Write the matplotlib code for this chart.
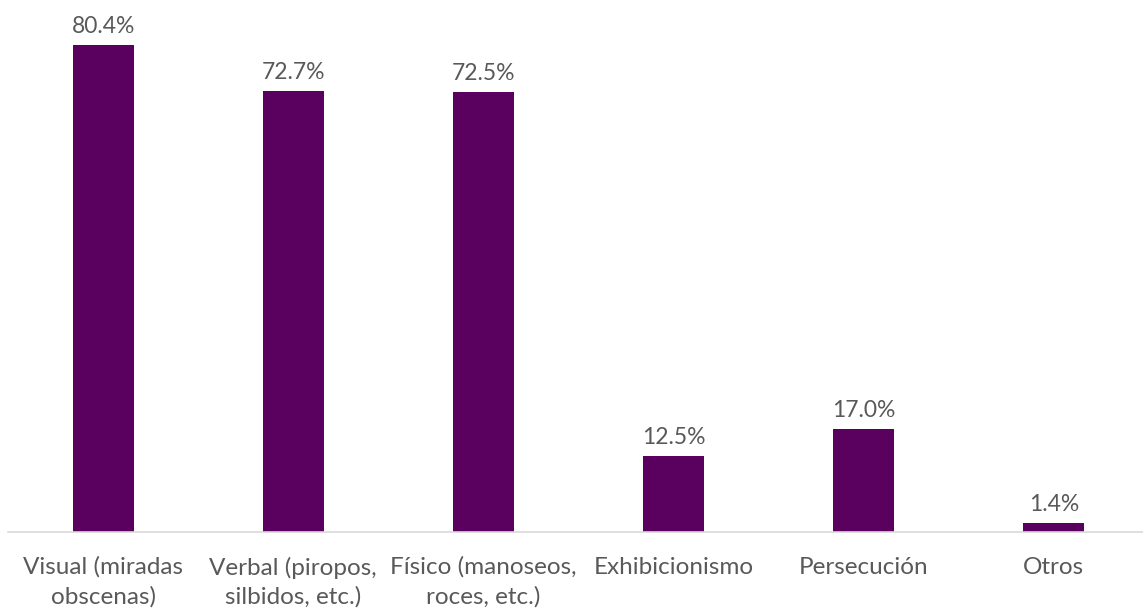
import matplotlib.pyplot as plt

categorias = ['Visual (miradas\nobscenas)', 'Verbal (piropos,\nsilbidos, etc.)',
              'Físico (manoseos,\nroces, etc.)', 'Exhibicionismo', 'Persecución', 'Otros']
porcentajes = [80.4, 72.7, 72.5, 12.5, 17.0, 1.4]

color_barra = '#5a005f'
color_texto = '#595959'

plt.rcParams['font.family'] = ['Lato', 'DejaVu Sans']

fig = plt.figure(figsize=(11.43, 6.12), dpi=100)
ax = fig.add_axes([8 / 1143, 80.5 / 612, 1141 / 1143, 531.5 / 612])

x = range(len(categorias))
ax.bar(x, porcentajes, width=0.32, color=color_barra)

for xi, v in zip(x, porcentajes):
    ax.text(xi, v + 1.3, f'{v:.1f}%', ha='center', va='bottom',
            fontsize=16.5, color=color_texto)

ax.set_xlim(-0.5, 5.5)
ax.set_ylim(0, 87.75)
ax.set_xticks(list(x))
ax.set_xticklabels(categorias, fontsize=17.5, color=color_texto, linespacing=1.45)
ax.tick_params(axis='x', length=0, pad=18)
ax.set_yticks([])

for lado in ['top', 'right', 'left']:
    ax.spines[lado].set_visible(False)
ax.spines['bottom'].set_color('#d9d9d9')
ax.spines['bottom'].set_linewidth(1.2)

fig.savefig('out.png', dpi=100)
